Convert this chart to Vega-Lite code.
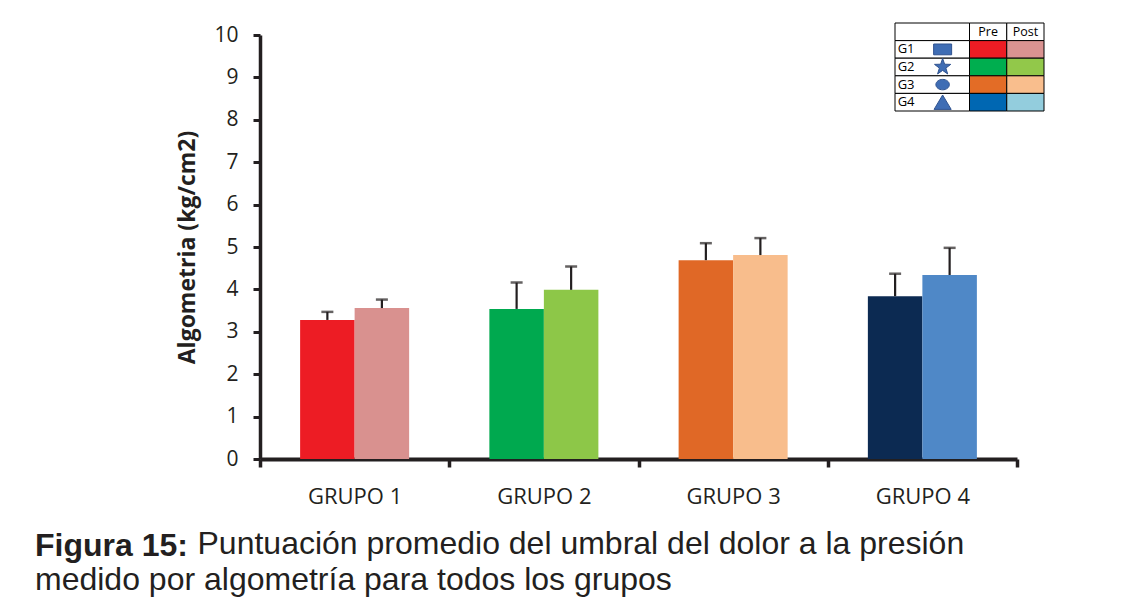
{
  "$schema": "https://vega.github.io/schema/vega-lite/v6.json",
  "width": 757,
  "height": 424,
  "autosize": {"type": "none"},
  "padding": {"left": 260, "top": 35, "right": 110, "bottom": 152},
  "background": "white",
  "config": {
    "view": {"stroke": null},
    "axis": {"grid": false}
  },
  "title": {
    "text": "Figura 15:",
    "subtitle": "medido por algometría para todos los grupos",
    "orient": "bottom",
    "anchor": "start",
    "frame": "group",
    "dx": -225,
    "dy": -32,
    "font": "Liberation Sans",
    "fontSize": 32,
    "fontWeight": "bold",
    "color": "#231F20",
    "subtitleFont": "Liberation Sans",
    "subtitleFontSize": 32,
    "subtitleFontWeight": "normal",
    "subtitleColor": "#231F20",
    "subtitlePadding": 2
  },
  "datasets": {
    "barras": [
      {"grupo": "GRUPO 1", "fase": "Pre", "serie": "G1 Pre", "media": 3.28, "sup": 3.47},
      {"grupo": "GRUPO 1", "fase": "Post", "serie": "G1 Post", "media": 3.56, "sup": 3.76},
      {"grupo": "GRUPO 2", "fase": "Pre", "serie": "G2 Pre", "media": 3.54, "sup": 4.16},
      {"grupo": "GRUPO 2", "fase": "Post", "serie": "G2 Post", "media": 3.99, "sup": 4.54},
      {"grupo": "GRUPO 3", "fase": "Pre", "serie": "G3 Pre", "media": 4.69, "sup": 5.09},
      {"grupo": "GRUPO 3", "fase": "Post", "serie": "G3 Post", "media": 4.81, "sup": 5.21},
      {"grupo": "GRUPO 4", "fase": "Pre", "serie": "G4 Pre", "media": 3.84, "sup": 4.37},
      {"grupo": "GRUPO 4", "fase": "Post", "serie": "G4 Post", "media": 4.34, "sup": 4.98}
    ],
    "tabla": [
      {"fila": "hdr", "c1": "lab1", "c2": "lab2", "celda": "blanco"},
      {"fila": "hdr", "c1": "Pre", "c2": "Pre", "celda": "blanco"},
      {"fila": "hdr", "c1": "Post", "c2": "Post", "celda": "blanco"},
      {"fila": "G1", "c1": "lab1", "c2": "lab2", "celda": "blanco"},
      {"fila": "G1", "c1": "Pre", "c2": "Pre", "celda": "G1 Pre"},
      {"fila": "G1", "c1": "Post", "c2": "Post", "celda": "G1 Post"},
      {"fila": "G2", "c1": "lab1", "c2": "lab2", "celda": "blanco"},
      {"fila": "G2", "c1": "Pre", "c2": "Pre", "celda": "G2 Pre"},
      {"fila": "G2", "c1": "Post", "c2": "Post", "celda": "G2 Post"},
      {"fila": "G3", "c1": "lab1", "c2": "lab2", "celda": "blanco"},
      {"fila": "G3", "c1": "Pre", "c2": "Pre", "celda": "G3 Pre"},
      {"fila": "G3", "c1": "Post", "c2": "Post", "celda": "G3 Post"},
      {"fila": "G4", "c1": "lab1", "c2": "lab2", "celda": "blanco"},
      {"fila": "G4", "c1": "Pre", "c2": "Pre", "celda": "G4 Pre"},
      {"fila": "G4", "c1": "Post", "c2": "Post", "celda": "G4 Post"}
    ],
    "encabezado": [
      {"fila": "hdr", "col": "Pre", "texto": "Pre"},
      {"fila": "hdr", "col": "Post", "texto": "Post"}
    ],
    "etiquetas": [
      {"fila": "G1", "col": "lab1", "forma": "G1", "texto": "G1"},
      {"fila": "G2", "col": "lab1", "forma": "G2", "texto": "G2"},
      {"fila": "G3", "col": "lab1", "forma": "G3", "texto": "G3"},
      {"fila": "G4", "col": "lab1", "forma": "G4", "texto": "G4"}
    ]
  },
  "layer": [
    {
      "data": {"name": "barras"},
      "encoding": {
        "x": {
          "field": "grupo",
          "type": "nominal",
          "sort": null,
          "scale": {"paddingInner": 0, "paddingOuter": 0},
          "axis": {
            "title": "Puntuación promedio del umbral del dolor a la presión",
            "titleFont": "Liberation Sans",
            "titleFontSize": 32,
            "titleFontWeight": "normal",
            "titleColor": "#231F20",
            "titleX": -63,
            "titleY": 94,
            "titleAlign": "left",
            "titleBaseline": "alphabetic",
            "labelAngle": 0,
            "labelFont": "Open Sans",
            "labelFontSize": 22,
            "labelColor": "#231F20",
            "labelPadding": 19,
            "domainColor": "#231F20",
            "domainWidth": 4,
            "tickColor": "#231F20",
            "tickWidth": 3.5,
            "tickSize": 8,
            "tickBand": "extent"
          }
        },
        "xOffset": {
          "field": "fase",
          "type": "nominal",
          "sort": ["Pre", "Post"],
          "scale": {"paddingInner": 0, "paddingOuter": 0.736}
        }
      },
      "layer": [
        {
          "mark": {"type": "bar"},
          "encoding": {
            "y": {
              "field": "media",
              "type": "quantitative",
              "scale": {"domain": [0, 10], "nice": false},
              "axis": {
                "title": "Algometria (kg/cm2)",
                "titleFont": "Open Sans",
                "titleFontSize": 23,
                "titleFontWeight": "bold",
                "titleColor": "#231F20",
                "titlePadding": 14,
                "values": [0, 1, 2, 3, 4, 5, 6, 7, 8, 9, 10],
                "labelFont": "Open Sans",
                "labelFontSize": 21,
                "labelColor": "#231F20",
                "labelPadding": 15,
                "domainColor": "#231F20",
                "domainWidth": 3.5,
                "tickColor": "#231F20",
                "tickWidth": 3,
                "tickSize": 7
              }
            },
            "color": {
              "field": "serie",
              "type": "nominal",
              "legend": null,
              "scale": {
                "domain": ["G1 Pre", "G1 Post", "G2 Pre", "G2 Post", "G3 Pre", "G3 Post", "G4 Pre", "G4 Post"],
                "range": ["#ED1C24", "#D9918F", "#00A94F", "#8DC748", "#E06826", "#F8BD8C", "#0C2A52", "#4F88C7"]
              }
            }
          }
        },
        {
          "mark": {"type": "rule", "color": "#231F20", "strokeWidth": 2.2},
          "encoding": {
            "y": {"field": "media", "type": "quantitative"},
            "y2": {"field": "sup"}
          }
        },
        {
          "mark": {"type": "tick", "color": "#231F20", "size": 12, "thickness": 2.5},
          "encoding": {
            "y": {"field": "sup", "type": "quantitative"}
          }
        }
      ]
    },
    {
      "layer": [
        {
          "data": {"name": "tabla"},
          "mark": {"type": "rect", "stroke": "#000000", "strokeWidth": 1},
          "encoding": {
            "x": {
              "field": "c1",
              "type": "nominal",
              "bandPosition": 0,
              "scale": {"domain": ["lab1", "lab2", "Pre", "Post"], "range": [635, 784], "paddingInner": 0, "paddingOuter": 0},
              "axis": null
            },
            "x2": {"field": "c2", "bandPosition": 1},
            "y": {
              "field": "fila",
              "type": "nominal",
              "scale": {"domain": ["hdr", "G1", "G2", "G3", "G4"], "range": [-12, 76], "paddingInner": 0, "paddingOuter": 0},
              "axis": null
            },
            "color": {
              "field": "celda",
              "type": "nominal",
              "legend": null,
              "scale": {
                "domain": ["blanco", "G1 Pre", "G1 Post", "G2 Pre", "G2 Post", "G3 Pre", "G3 Post", "G4 Pre", "G4 Post"],
                "range": ["#FFFFFF", "#ED1C24", "#DA9391", "#00AE4F", "#92C84A", "#E36C26", "#F9BE8D", "#0067B2", "#93CDDD"]
              }
            }
          }
        },
        {
          "data": {"name": "encabezado"},
          "mark": {"type": "text", "font": "Open Sans", "fontSize": 12.5, "color": "#000000", "align": "center", "baseline": "middle"},
          "encoding": {
            "x": {"field": "col", "type": "nominal", "axis": null},
            "y": {"field": "fila", "type": "nominal", "axis": null},
            "text": {"field": "texto"}
          }
        },
        {
          "data": {"name": "etiquetas"},
          "mark": {"type": "text", "font": "Open Sans", "fontSize": 13, "color": "#000000", "align": "left", "baseline": "middle", "dx": -16},
          "encoding": {
            "x": {"field": "col", "type": "nominal", "axis": null},
            "y": {"field": "fila", "type": "nominal", "axis": null},
            "text": {"field": "texto"}
          }
        },
        {
          "data": {"name": "etiquetas"},
          "mark": {"type": "point", "filled": true, "size": 324, "color": "#3F6DB4", "stroke": "#2F528F", "strokeWidth": 1, "opacity": 1, "xOffset": 29},
          "encoding": {
            "x": {"field": "col", "type": "nominal", "axis": null},
            "y": {"field": "fila", "type": "nominal", "axis": null},
            "shape": {
              "field": "forma",
              "type": "nominal",
              "legend": null,
              "scale": {
                "domain": ["G1", "G2", "G3", "G4"],
                "range": [
                  "M-1,-0.6H1V0.6H-1Z",
                  "M0,-0.95L0.22,-0.31L0.9,-0.29L0.36,0.12L0.56,0.77L0,0.38L-0.56,0.77L-0.36,0.12L-0.9,-0.29L-0.22,-0.31Z",
                  "M-0.75,0A0.75,0.58 0 1,0 0.75,0A0.75,0.58 0 1,0 -0.75,0Z",
                  "M0,-0.8L0.95,0.8H-0.95Z"
                ]
              }
            }
          }
        }
      ]
    }
  ],
  "resolve": {
    "scale": {"x": "independent", "y": "independent", "color": "independent", "shape": "independent"},
    "axis": {"x": "independent", "y": "independent"}
  }
}
